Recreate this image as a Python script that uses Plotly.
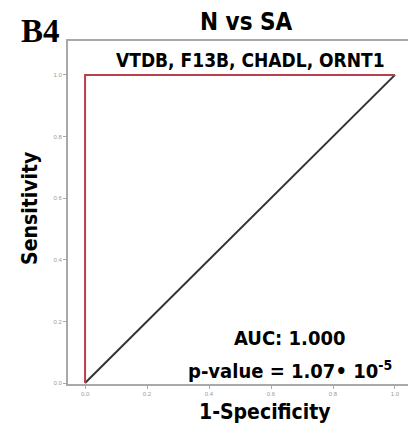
import plotly.graph_objects as go

# ROC data for the combined marker panel
fpr_roc = [0.0, 0.0, 1.0]
tpr_roc = [0.0, 1.0, 1.0]
ref_x = [0.0, 1.0]
ref_y = [0.0, 1.0]
tick_vals = [0.0, 0.2, 0.4, 0.6, 0.8, 1.0]
tick_text = ["0.0", "0.2", "0.4", "0.6", "0.8", "1.0"]

panel_label = "B4"
title_text = "N vs SA"
marker_text = "VTDB, F13B, CHADL, ORNT1"
auc_text = "AUC: 1.000"
pval_text = "p-value = 1.07\u2022 10<sup>-5</sup>"
x_label = "1-Specificity"
y_label = "Sensitivity"

BOLD = "DejaVu Sans Condensed, DejaVu Sans, sans-serif"
AXIS_GREY = "#a9a9a9"

fig = go.Figure()
fig.add_trace(go.Scatter(x=ref_x, y=ref_y, mode="lines",
                         line=dict(color="#333333", width=2), hoverinfo="skip"))
fig.add_trace(go.Scatter(x=fpr_roc, y=tpr_roc, mode="lines",
                         line=dict(color="#b8404c", width=2), hoverinfo="skip"))

axis_common = dict(
    showline=True, linecolor=AXIS_GREY, linewidth=2,
    ticks="outside", ticklen=3, tickwidth=1, tickcolor=AXIS_GREY,
    tickvals=tick_vals, ticktext=tick_text,
    tickfont=dict(size=6, color="#9a9a9a", family="Arial, sans-serif"),
    showgrid=False, zeroline=False,
)

fig.update_layout(
    width=408, height=426,
    margin=dict(l=68, r=0, t=41, b=42),
    paper_bgcolor="white", plot_bgcolor="white",
    showlegend=False,
    xaxis=dict(range=[-0.055, 1.042], mirror=True, **axis_common),
    yaxis=dict(range=[-0.003, 1.11], **axis_common),
)

def label(text, x, y, size, family=BOLD, angle=0):
    fig.add_annotation(text=f"<b>{text}</b>", x=x, y=y, xref="paper", yref="paper",
                       showarrow=False, xanchor="center", yanchor="middle",
                       textangle=angle,
                       font=dict(size=size, color="black", family=family))

label(panel_label, -0.082, 1.029, 33, family="Liberation Serif, Times New Roman, serif")
label(title_text, 0.524, 1.055, 24)
label(marker_text, 0.538, 0.945, 19)
label(auc_text, 0.653, 0.134, 20)
label(pval_text, 0.653, 0.041, 20)
label(x_label, 0.579, -0.082, 21)
label(y_label, -0.112, 0.513, 21, angle=-90)

fig.write_html("out.html")
